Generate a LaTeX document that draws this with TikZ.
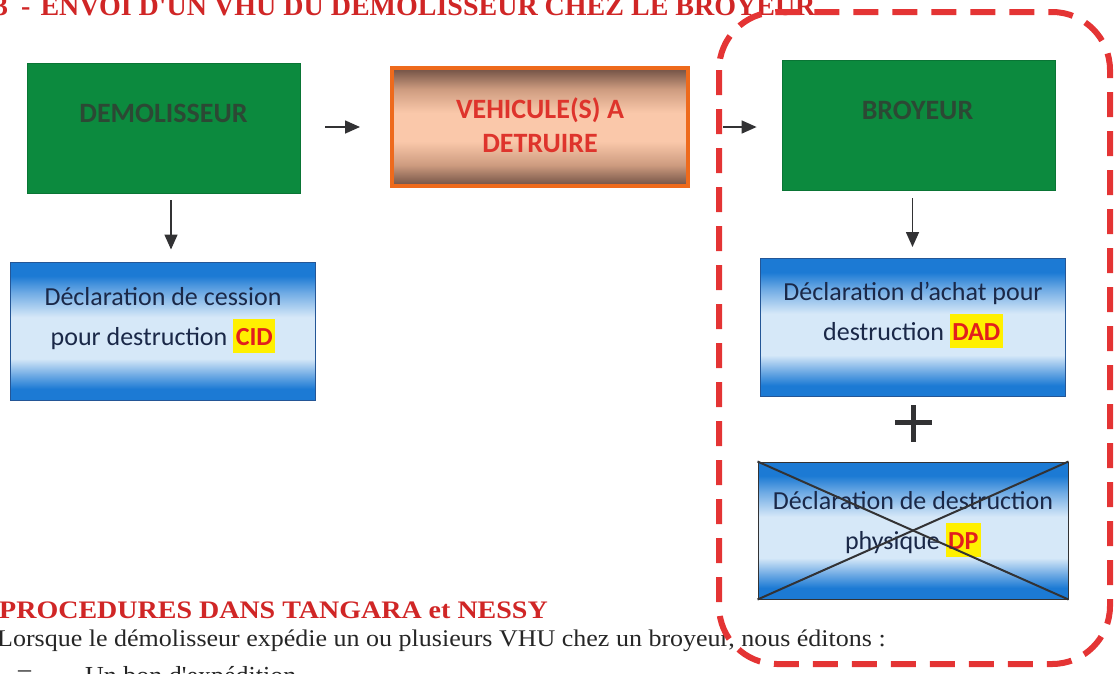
\documentclass[tikz,border=0pt]{standalone}
\usepackage{fontspec}
\setmainfont{Carlito}
\newfontfamily\serifrm{Liberation Serif}
\usetikzlibrary{arrows.meta}
\definecolor{boxgreen}{RGB}{12,138,62}
\definecolor{greentext}{RGB}{44,72,52}
\definecolor{bluedark}{RGB}{28,122,212}
\definecolor{bluemid}{RGB}{110,170,228}
\definecolor{bluelight}{RGB}{214,232,248}
\definecolor{bluebord}{RGB}{36,86,150}
\definecolor{bluetext}{RGB}{26,40,72}
\definecolor{vehbrown}{RGB}{122,88,74}
\definecolor{vehmid}{RGB}{206,156,128}
\definecolor{vehpeach}{RGB}{250,200,170}
\definecolor{vehorange}{RGB}{238,106,28}
\definecolor{vehred}{RGB}{222,52,44}
\definecolor{hlyellow}{RGB}{255,240,0}
\definecolor{hlred}{RGB}{226,30,30}
\definecolor{framered}{RGB}{228,52,52}
\definecolor{titlered}{RGB}{208,38,38}
\definecolor{arrgrey}{RGB}{50,50,52}
\pgfdeclareverticalshading{blueshade}{100bp}{color(0bp)=(bluedark); color(29bp)=(bluedark); color(34bp)=(bluemid); color(40bp)=(bluelight); color(55bp)=(bluelight); color(64bp)=(bluemid); color(70bp)=(bluedark); color(100bp)=(bluedark)}
\pgfdeclareverticalshading{vehshade}{100bp}{color(0bp)=(vehbrown); color(26bp)=(vehbrown); color(34bp)=(vehmid); color(44bp)=(vehpeach); color(56bp)=(vehpeach); color(66bp)=(vehmid); color(74bp)=(vehbrown); color(100bp)=(vehbrown)}
\newcommand\hlt[1]{{\setlength{\fboxsep}{0pt}\colorbox{hlyellow}{\kern2.5pt\rule[-8pt]{0pt}{34pt}\textcolor{hlred}{\bfseries #1}\kern2.5pt}}}
\begin{document}
\begin{tikzpicture}[x=1pt,y=-1pt,
  greenbox/.style={fill=boxgreen, draw=boxgreen!85!black, line width=0.8pt, minimum width=273pt, minimum height=130pt, inner sep=0pt},
  bluebox/.style={draw=bluebord, line width=1pt, shading=blueshade, minimum width=305pt, minimum height=138pt, inner sep=0pt},
  vehbox/.style={draw=vehorange, line width=4pt, shading=vehshade, minimum width=296pt, minimum height=118pt, inner sep=0pt},
  arr/.style={draw=arrgrey, line width=1.6pt, -{Triangle[length=15pt,width=13pt]}},
  gtext/.style={text=greentext, font=\fontsize{28}{34}\selectfont\bfseries},
  vtext/.style={text=vehred, align=center, font=\fontsize{28}{34}\selectfont\bfseries},
  btext/.style={text=bluetext, align=center, font=\fontsize{26}{40}\selectfont},
  crossline/.style={draw=arrgrey, line width=2pt},
  frame/.style={draw=framered, line width=6pt, dash pattern=on 25pt off 14pt, rounded corners=58pt},
  redhead/.style={text=titlered, anchor=base west, inner sep=0pt, font=\serifrm\bfseries\fontsize{28}{30}\selectfont},
  bodytext/.style={text=black!85, anchor=base west, inner sep=0pt, font=\serifrm\fontsize{26}{30}\selectfont},
]
\useasboundingbox (0,0) rectangle (1114,673);
\clip (0,0) rectangle (1114,673);

% headings and body text
\node[redhead] (title) at (-6,15) {3\hspace{13pt}-\hspace{10pt}ENVOI D'UN VHU DU DEMOLISSEUR CHEZ LE BROYEUR};
\node[redhead] (proc) at (-1,618) {\scalebox{1}[0.9]{PROCEDURES DANS TANGARA et NESSY}};
\node[bodytext] (lors) at (-3,646) {\scalebox{1}[0.92]{Lorsque le démolisseur expédie un ou plusieurs VHU chez un broyeur, nous éditons :}};
\node[bodytext] (tiret) at (18,677) {–};
\node[bodytext] (bon) at (85,684) {Un bon d'expédition};

% dashed zone
\draw[frame] (719,12) rectangle (1110,664);

% boxes
\node[greenbox] (demol) at (163.5,128) {};
\node[gtext] (demolt) at (163.5,113) {DEMOLISSEUR};
\node[vehbox] (veh) at (540,127) {};
\node[vtext] (veht) at (540,125) {VEHICULE(S) A\\DETRUIRE};
\node[greenbox] (broy) at (918.5,125) {};
\node[gtext] (broyt) at (917.5,110) {BROYEUR};

\node[bluebox] (cid) at (162.5,331) {};
\node[btext] (cidt) at (163,320) {Déclaration de cession\\pour destruction \hlt{CID}};
\node[bluebox] (dad) at (912.5,327.5) {};
\node[btext] (dadt) at (913,315) {Déclaration d’achat pour\\destruction \hlt{DAD}};
\node[bluebox, draw=arrgrey, minimum width=310pt, minimum height=137pt] (dp) at (913,530.5) {};
\node[btext] (dpt) at (913,524) {Déclaration de destruction\\physique \hlt{DP}};
\draw[crossline] (dp.north west) -- (dp.south east);
\draw[crossline] (dp.north east) -- (dp.south west);

% plus sign
\draw[arrgrey, line width=5pt] (913,405) -- (913,442);
\draw[arrgrey, line width=5pt] (895,422) -- (932,422);

% connectors
\draw[arr, shorten <=25pt, shorten >=30pt] (demol.east |- veh.west) -- (veh.west);
\draw[arr, shorten <=33pt, shorten >=25pt] (veh.east) -- (veh.east -| broy.west);
\draw[arr, shorten <=7pt, shorten >=12pt] ([xshift=7.5pt]demol.south) -- ([xshift=8.5pt]cid.north);
\draw[arr, shorten <=8pt, shorten >=11pt] ([xshift=-6pt]broy.south) -- (dad.north);
\end{tikzpicture}
\end{document}
